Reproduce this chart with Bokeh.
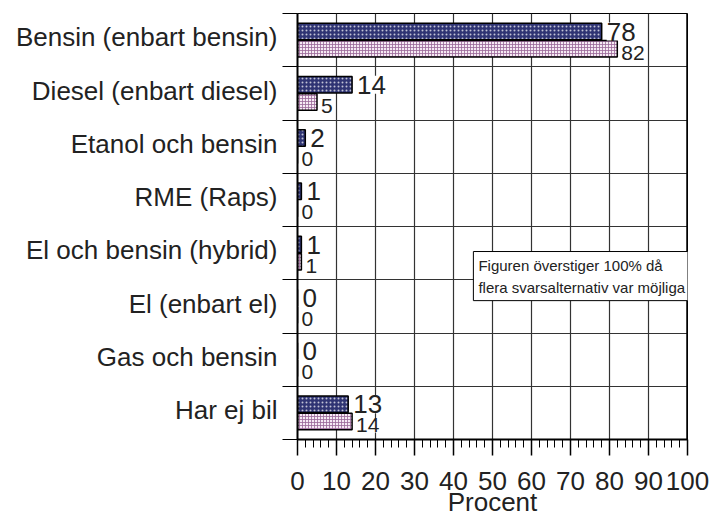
from bokeh.plotting import figure
from bokeh.models import (Range1d, FixedTicker, ColumnDataSource, LabelSet, Label, Span,
                          CustomJSTickFormatter)
from bokeh.core.properties import value
from bokeh.embed import file_html
from bokeh.resources import INLINE

# ---- data ----
categories = [
    "Bensin (enbart bensin)",
    "Diesel (enbart diesel)",
    "Etanol och bensin",
    "RME (Raps)",
    "El och bensin (hybrid)",
    "El (enbart el)",
    "Gas och bensin",
    "Har ej bil",
]
series_dark = [78, 14, 2, 1, 1, 0, 0, 13]
series_light = [82, 5, 0, 0, 1, 0, 0, 14]
x_ticks = [0, 10, 20, 30, 40, 50, 60, 70, 80, 90, 100]
x_minor = list(range(0, 101, 2))
axis_title = "Procent"
note_text = "Figuren överstiger 100% då\nflera svarsalternativ var möjliga"

FONT = "Liberation Sans"
TXT = "#222222"
n = len(categories)
centers = [i + 0.5 for i in range(n)]
boundaries = list(range(n + 1))
OFF = 0.16
BAR_H = 0.31
LABEL_NUDGE = 0.05

src_dark = ColumnDataSource(dict(
    y=[c - OFF for c in centers], v=series_dark, t=[str(v) for v in series_dark]))
src_light = ColumnDataSource(dict(
    y=[c + OFF for c in centers], v=series_light, t=[str(v) for v in series_light]))

p = figure(width=712, height=520, output_backend="svg", toolbar_location=None,
           x_range=Range1d(0, 100), y_range=Range1d(n, 0),
           min_border_left=297, min_border_right=25, min_border_top=13,
           min_border_bottom=81, background_fill_color="white",
           border_fill_color="white")
p.outline_line_color = "black"
p.outline_line_width = 1

# bars
p.hbar(y="y", right="v", left=0, height=BAR_H, source=src_dark,
       fill_color="#2f3473", line_color="black", line_width=1.5,
       hatch_pattern="dot", hatch_color="white", hatch_alpha=0.7,
       hatch_scale=4, hatch_weight=1)
p.hbar(y="y", right="v", left=0, height=BAR_H, source=src_light,
       fill_color="#f6eaf4", line_color="black", line_width=1.5,
       hatch_pattern="cross", hatch_color="#9a6898", hatch_alpha=0.8,
       hatch_scale=3, hatch_weight=1)

# x axis
p.xaxis.ticker = FixedTicker(ticks=x_ticks, minor_ticks=x_minor)
p.xaxis.major_tick_out = 16
p.xaxis.major_tick_in = 0
p.xaxis.minor_tick_out = 8
p.xaxis.minor_tick_in = 0
p.xaxis.axis_line_width = 2
p.xaxis.major_tick_line_width = 1.5
p.xaxis.major_label_text_font = FONT
p.xaxis.major_label_text_font_size = "26px"
p.xaxis.major_label_text_color = TXT
p.xaxis.major_label_standoff = 16
p.xaxis.axis_label = axis_title
p.xaxis.axis_label_text_font = FONT
p.xaxis.axis_label_text_font_size = "26px"
p.xaxis.axis_label_text_font_style = "normal"
p.xaxis.axis_label_text_color = TXT
p.xaxis.axis_label_standoff = -6

# y axis: labels at category centres, boundary ticks as minor ticks
p.yaxis.ticker = FixedTicker(ticks=[c - LABEL_NUDGE for c in centers], minor_ticks=boundaries)
p.yaxis.formatter = CustomJSTickFormatter(
    args=dict(cats=categories),
    code="const i = Math.floor(tick); return (i >= 0 && i < cats.length) ? cats[i] : '';")
p.yaxis.major_tick_out = 0
p.yaxis.major_tick_in = 0
p.yaxis.major_tick_line_color = None
p.yaxis.minor_tick_out = 15
p.yaxis.minor_tick_in = 0
p.yaxis.minor_tick_line_color = "black"
p.yaxis.minor_tick_line_width = 1.2
p.yaxis.major_label_standoff = 5
p.yaxis.major_label_text_font = FONT
p.yaxis.major_label_text_font_size = "26px"
p.yaxis.major_label_text_color = TXT
p.yaxis.axis_line_width = 2

p.xgrid.grid_line_color = "#333333"
p.xgrid.grid_line_width = 1.2
p.ygrid.ticker = FixedTicker(ticks=boundaries)
p.ygrid.grid_line_color = "#333333"
p.ygrid.grid_line_width = 1.2

p.add_layout(Span(location=x_ticks[-1], dimension="height", line_color="black",
                  line_width=2.5))

# value labels
p.add_layout(LabelSet(x="v", y="y", text="t", source=src_dark, x_offset=5,
                      text_align="left", text_baseline="middle",
                      text_font=value(FONT), text_font_size="26px", text_color=TXT,
                      background_fill_color="white"))
p.add_layout(LabelSet(x="v", y="y", text="t", source=src_light, x_offset=4, y_offset=-4,
                      text_align="left", text_baseline="middle",
                      text_font=value(FONT), text_font_size="21px", text_color=TXT,
                      background_fill_color="white"))

# note box
p.add_layout(Label(x=45.1, y=4.47, text=note_text, text_align="left", text_baseline="top",
                   text_font=FONT, text_font_size="15px", text_color=TXT,
                   text_line_height=1.3, padding=5,
                   background_fill_color="white", border_line_color="black",
                   border_line_width=1))

open("out.html", "w").write(file_html(p, INLINE))
